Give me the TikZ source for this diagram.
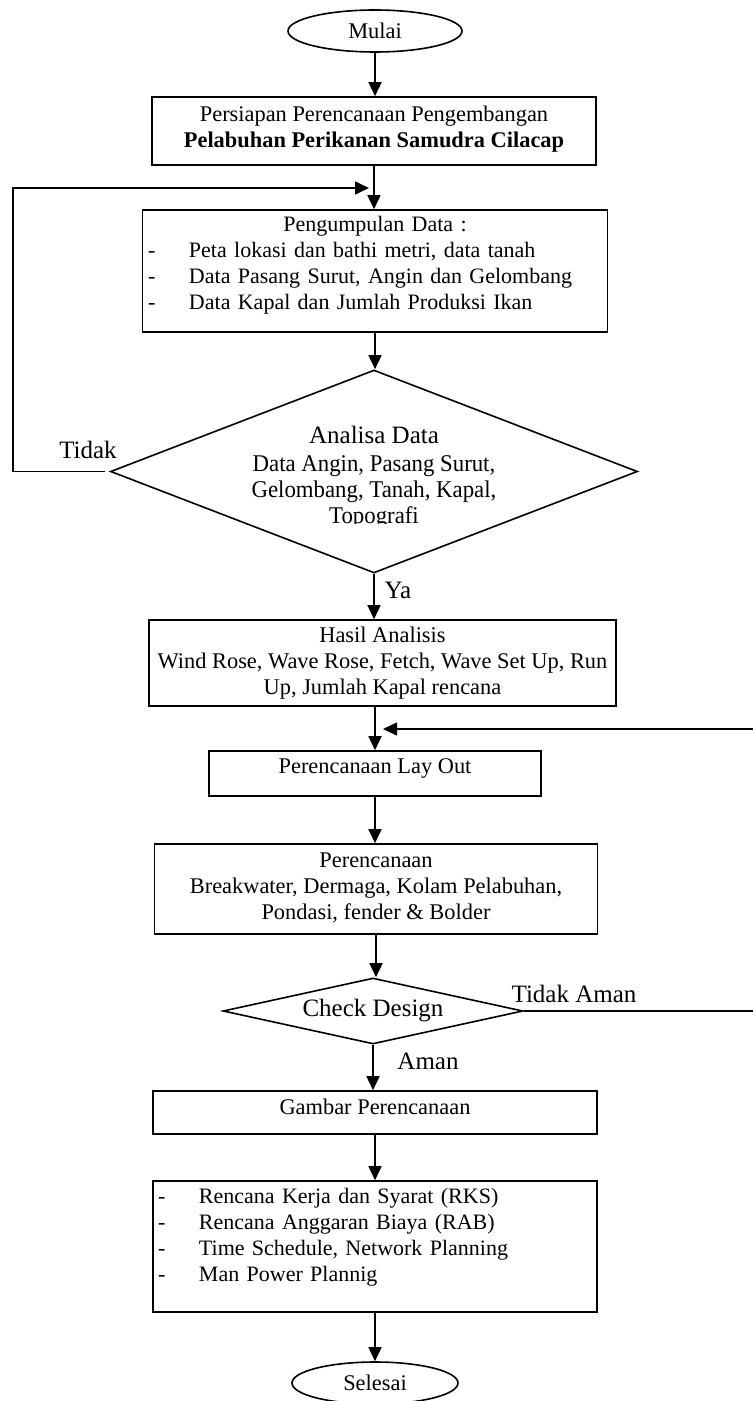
\documentclass[tikz,border=0pt]{standalone}
\usepackage{fontspec}
\setmainfont{Liberation Serif}
\usepackage{graphicx}
\usetikzlibrary{shapes.geometric, positioning, arrows.meta}
\newcommand{\sempit}[1]{\scalebox{.95}[1]{#1}}
\newcommand{\butir}{\makebox[20.5pt][l]{-}}

\begin{document}
\begin{tikzpicture}[x=0.5pt, y=-0.5pt, line width=0.8pt,
  >={Triangle[length=7pt, width=6.5pt]},
  kotak/.style={draw, rectangle, inner sep=0pt},
  ujung/.style={draw, ellipse, inner sep=0pt, minimum height=21pt, font=\fontsize{11.2}{13}\selectfont},
  putusan/.style={draw, diamond, inner sep=0pt},
  teks/.style={inner sep=0pt, align=center, font=\fontsize{11.2}{13}\selectfont},
  daftar/.style={inner sep=0pt, text width=#1, font=\fontsize{11}{13}\selectfont},
  ket/.style={inner sep=0pt, font=\fontsize{12.5}{14}\selectfont}]
  \useasboundingbox (0,0) rectangle (753,1401);

  % Mulai
  \node[ujung, minimum width=87pt] (mulai) at (375,31) {Mulai};

  % Persiapan
  \node[kotak, minimum width=222pt, minimum height=34pt] (persiapan) at (374,131) {};
  \node[teks] (persiapan-t) at ([yshift=1pt]persiapan.center)
    {Persiapan Perencanaan Pengembangan\\ \textbf{Pelabuhan Perikanan Samudra Cilacap}};

  % Pengumpulan data
  \node[kotak, minimum width=232.5pt, minimum height=61pt] (kumpul) at (375,271) {};
  \node[daftar=227pt] (kumpul-t) at ([yshift=3pt]kumpul.center)
    {\centering Pengumpulan Data :\par\raggedright
     \butir Peta lokasi dan bathi metri, data tanah\par
     \butir Data Pasang Surut, Angin dan Gelombang\par
     \butir Data Kapal dan Jumlah Produksi Ikan};

  % Analisa data
  \node[putusan, minimum width=263.5pt, minimum height=101.5pt] (analisa) at (374,471.5) {};
  \begin{scope}
    \clip (150,400) rectangle (600,523);
    \node[teks, font=\fontsize{12}{13}\selectfont] (analisa-t) at ([yshift=-3pt]analisa.center)
      {{\fontsize{12.5}{13}\selectfont Analisa Data}\\[1pt]
       \sempit{Data Angin, Pasang Surut,}\\
       \sempit{Gelombang, Tanah, Kapal,}\\
       \sempit{Topografi}};
  \end{scope}

  % Hasil analisis
  \node[kotak, minimum width=233.5pt, minimum height=43pt] (hasil) at (382.5,663) {};
  \node[teks] (hasil-t) at (hasil.center)
    {Hasil Analisis\\ Wind Rose, Wave Rose, Fetch, Wave Set Up, Run\\ Up, Jumlah Kapal rencana};

  % Lay out
  \node[kotak, minimum width=166pt, minimum height=22.5pt] (layout) at (375,773.5) {};
  \node[teks] (layout-t) at ([yshift=2.75pt]layout.center) {Perencanaan Lay Out};

  % Perencanaan
  \node[kotak, minimum width=221.5pt, minimum height=45pt] (rencana) at (376,889) {};
  \node[teks] (rencana-t) at ([yshift=0.75pt]rencana.center)
    {Perencanaan\\ Breakwater, Dermaga, Kolam Pelabuhan,\\ Pondasi, fender \& Bolder};

  % Check design
  \node[putusan, minimum width=150pt, minimum height=33pt] (cek) at (373,1011) {};
  \node[ket] (cek-t) at (cek.center) {Check Design};

  % Gambar
  \node[kotak, minimum width=222pt, minimum height=21.5pt] (gambar) at (375,1112.5) {};
  \node[teks] (gambar-t) at ([yshift=3pt]gambar.center) {Gambar Perencanaan};

  % Dokumen
  \node[kotak, minimum width=222pt, minimum height=65.5pt] (dokumen) at (375,1246.5) {};
  \node[daftar=217pt] (dokumen-t) at ([yshift=4.75pt]dokumen.center)
    {\raggedright
     \butir Rencana Kerja dan Syarat (RKS)\par
     \butir Rencana Anggaran Biaya (RAB)\par
     \butir Time Schedule, Network Planning\par
     \butir Man Power Plannig};

  % Selesai
  \node[ujung, minimum width=83pt] (selesai) at (375,1383) {Selesai};

  % Panah utama
  \foreach \dari/\ke in {mulai/persiapan, persiapan/kumpul, kumpul/analisa, analisa/hasil,
      layout/rencana, rencana/cek, cek/gambar, gambar/dokumen, dokumen/selesai}
    \draw[->] (\dari.south) -- (\dari.south |- \ke.north);
  \draw[->] (layout.north |- hasil.south) -- (layout.north);

  % Balik: Tidak
  \coordinate (kiri) at (13,188);
  \coordinate (masuk-kiri) at (369,188);
  \draw[->] ([xshift=-2.5pt]analisa.west) -| (kiri) -- (masuk-kiri);

  % Balik: Tidak Aman
  \coordinate (kanan) at (758,729);
  \coordinate (masuk-kanan) at (383,729);
  \draw[->] (cek.east) -| (kanan) -- (masuk-kanan);

  % Keterangan
  \node[ket] (tidak) at (88,450) {Tidak};
  \node[ket] (ya) at (398,590) {Ya};
  \node[ket] (tidak-aman) at (574,994) {Tidak Aman};
  \node[ket] (aman) at (428,1061) {Aman};
\end{tikzpicture}
\end{document}
